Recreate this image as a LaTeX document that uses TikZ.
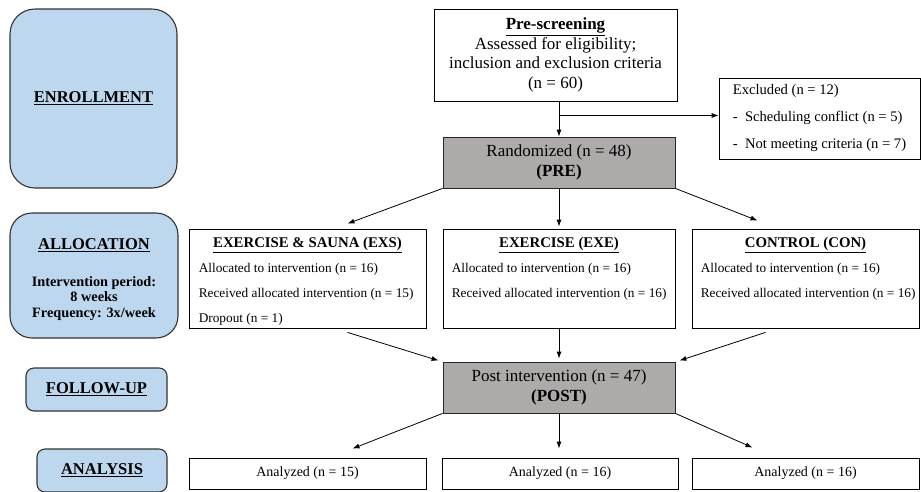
\documentclass[tikz,border=0pt]{standalone}
\usepackage{fontspec}
\setmainfont{Liberation Serif}
\usepackage{tikz}
\usetikzlibrary{calc}
\usetikzlibrary{arrows.meta}
\usetikzlibrary{positioning}

\definecolor{phaseblue}{HTML}{BDD7EE}
\definecolor{boxgray}{HTML}{AEAAAA}

\tikzset{
 phase/.style={rectangle, rounded corners=#1, draw=black!80, line width=1.1pt, fill=phaseblue, align=center, font=\fontsize{16.5}{19}\selectfont\bfseries},
 phase/.default=8pt,
 plainbox/.style={rectangle, draw=black, line width=0.8pt, fill=white, align=center},
 graybox/.style={rectangle, draw=black!85, line width=0.8pt, fill=boxgray, align=center, minimum width=232pt, minimum height=51pt, font=\fontsize{17}{19.5}\selectfont},
 groupbox/.style={plainbox, minimum height=99pt},
 grouptitle/.style={anchor=base, inner sep=0pt, font=\fontsize{14.8}{17}\selectfont\bfseries},
 groupline/.style={anchor=north west, inner sep=0pt, align=left, font=\fontsize{13.3}{25}\selectfont},
 resultbox/.style={plainbox, minimum height=31pt, font=\fontsize{14}{17}\selectfont},
 flow/.style={-{Latex[length=7pt, width=5pt]}, draw=black, line width=0.8pt}
}

\begin{document}
\begin{tikzpicture}[x=1pt, y=-1pt]
 \clip (0,0) rectangle (921,491);
 \fill [white] (0,0) rectangle (921,491);

 % phases
 \node [phase=25pt, minimum width=167pt, minimum height=179pt] (enroll) at (93.5, 98.5) {\underline{ENROLLMENT}};
 \node [phase=22pt, minimum width=168pt, minimum height=125pt] (alloc) at (94, 275.5) {};
 \node [align=center, inner sep=0pt, font=\fontsize{16.5}{19}\selectfont\bfseries] (allocname) at (94, 245) {\underline{ALLOCATION}};
 \node [align=center, inner sep=0pt, font=\fontsize{14.3}{15.5}\selectfont\bfseries] (allocinfo) at (94, 298.5) {Intervention period:\\8 weeks\\Frequency: 3x/week};
 \node [phase=8pt, minimum width=141pt, minimum height=43pt] (follow) at (96.5, 389.5) {\underline{FOLLOW-UP}};
 \node [phase=8pt, minimum width=130pt, minimum height=43pt] (analysis) at (102, 470.5) {\underline{ANALYSIS}};

 % screening
 \node [plainbox, minimum width=243pt, minimum height=92pt, font=\fontsize{17}{19.5}\selectfont] (prescreen) at (555.5, 55) {\textbf{\underline{Pre-screening}}\\Assessed for eligibility;\\inclusion and exclusion criteria\\(n = 60)};
 \node [plainbox, minimum width=201pt, minimum height=81pt, align=left, font=\fontsize{14.6}{27}\selectfont] (excluded) at (819.5, 118.5) {Excluded (n = 12)\\-~~Scheduling conflict (n = 5)\\-~~Not meeting criteria (n = 7)};
 \node [graybox] (random) at (559, 162.5) {Randomized (n = 48)\\\textbf{(PRE)}};

 % groups
 \node [groupbox, minimum width=237pt] (exs) at (307.5, 278.5) {};
 \node [groupbox, minimum width=232pt] (exe) at (559, 278.5) {};
 \node [groupbox, minimum width=227pt] (con) at (805.5, 278.5) {};
 \node [grouptitle] (exstitle) at ($(exs.north)+(0,19)$) {\underline{EXERCISE \& SAUNA (EXS)}};
 \node [grouptitle] (exetitle) at ($(exe.north)+(0,19)$) {\underline{EXERCISE (EXE)}};
 \node [grouptitle] (contitle) at ($(con.north)+(0,19)$) {\underline{CONTROL (CON)}};
 \node [groupline] (exslines) at ($(exs.north west)+(10,34)$) {Allocated to intervention (n = 16)\\Received allocated intervention (n = 15)\\Dropout (n = 1)};
 \node [groupline] (exelines) at ($(exe.north west)+(9,34)$) {Allocated to intervention (n = 16)\\Received allocated intervention (n = 16)};
 \node [groupline] (conlines) at ($(con.north west)+(9,34)$) {Allocated to intervention (n = 16)\\Received allocated intervention (n = 16)};

 % follow-up and analysis
 \node [graybox] (post) at (559, 387.5) {Post intervention (n = 47)\\\textbf{(POST)}};
 \node [resultbox, minimum width=237pt] (an1) at (307.5, 473.5) {Analyzed (n = 15)};
 \node [resultbox, minimum width=236pt] (an2) at (560, 473.5) {Analyzed (n = 16)};
 \node [resultbox, minimum width=227pt] (an3) at (805.5, 473.5) {Analyzed (n = 16)};

 % connectors
 \coordinate (split) at ($(prescreen.south -| random.north)!0.4!(random.north)$);
 \draw [flow] (prescreen.south -| random.north) to (random.north);
 \draw [flow] (split) to (split -| excluded.west);
 \draw [flow] (random.south west) to ([xshift=40pt, yshift=5pt]exs.north);
 \draw [flow, shorten >=2pt] (random.south) to (exe.north);
 \draw [flow] (random.south east) to ([xshift=-48pt, yshift=8pt]con.north);
 \draw [flow] ([xshift=40pt, yshift=-4pt]exs.south) to ([xshift=-4pt, yshift=1pt]post.north west);
 \draw [flow, shorten >=3pt] (exe.south) to (post.north);
 \draw [flow] ([xshift=-40pt, yshift=-4pt]con.south) to ([xshift=4pt, yshift=1pt]post.north east);
 \draw [flow] (post.south west) to ([xshift=45pt, yshift=9pt]an1.north);
 \draw [flow, shorten >=9pt] (post.south) to (post.south |- an2.north);
 \draw [flow] (post.south east) to ([xshift=-53pt, yshift=10pt]an3.north);
\end{tikzpicture}
\end{document}
